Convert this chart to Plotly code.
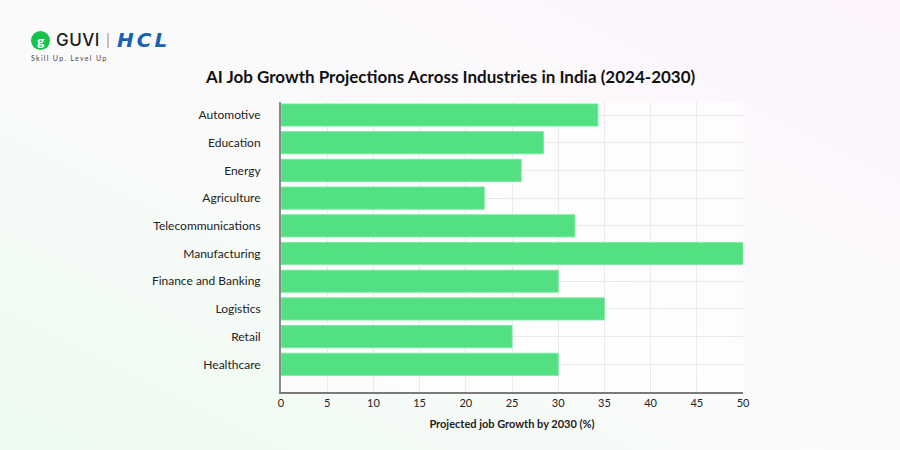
import base64
import plotly.graph_objects as go

# ---- data (bottom to top, as drawn) ----
industries = ["Healthcare", "Retail", "Logistics", "Finance and Banking", "Manufacturing",
              "Telecommunications", "Agriculture", "Energy", "Education", "Automotive"]
growth_pct = [30, 25, 35, 30, 50, 31.8, 22, 26, 28.4, 34.3]
x_ticks = [0, 5, 10, 15, 20, 25, 30, 35, 40, 45, 50]

title_text = "AI Job Growth Projections Across Industries in India (2024-2030)"
x_title = "Projected job Growth by 2030 (%)"

W, H = 900, 450
ML, MR, MT, MB = 281, 157, 102, 58
PW, PH = W - ML - MR, H - MT - MB

svg = f'''<svg xmlns="http://www.w3.org/2000/svg" width="{W}" height="{H}" viewBox="0 0 {W} {H}" preserveAspectRatio="none">
<defs><linearGradient id="g" x1="0" y1="1" x2="1" y2="0">
<stop offset="0" stop-color="#ecfaf0"/>
<stop offset="0.45" stop-color="#fafbfa"/>
<stop offset="0.7" stop-color="#fcf9fc"/>
<stop offset="1" stop-color="#fcf3fc"/>
</linearGradient></defs>
<rect width="{W}" height="{H}" fill="url(#g)"/></svg>'''
bg_uri = "data:image/svg+xml;base64," + base64.b64encode(svg.encode()).decode()

fig = go.Figure()
fig.add_trace(go.Bar(
    x=growth_pct, y=industries, orientation="h",
    marker=dict(color="#53e083", line=dict(color="rgba(120,235,160,0.9)", width=1)),
    width=0.8, hoverinfo="x+y",
))

fig.update_layout(
    width=W, height=H,
    margin=dict(l=ML, r=MR, t=MT, b=MB, pad=0),
    paper_bgcolor="#fafafa",
    plot_bgcolor="rgba(0,0,0,0)",
    font=dict(family="Lato, Inter, sans-serif", color="#222"),
    showlegend=False,
    images=[dict(source=bg_uri, xref="paper", yref="paper",
                 x=-ML / PW, y=1 + MT / PH, sizex=W / PW, sizey=H / PH,
                 xanchor="left", yanchor="top", sizing="stretch", layer="below")],
    shapes=[dict(type="rect", xref="paper", yref="paper", x0=0, x1=1, y0=0, y1=1,
                 fillcolor="rgba(255,255,255,0.65)", line=dict(width=0), layer="below")],
    xaxis=dict(range=[0, 50], tickvals=x_ticks, showgrid=True, gridcolor="#ebe9ec", gridwidth=1,
               showline=True, linecolor="#7a7a7a", linewidth=2, zeroline=False,
               ticks="", tickfont=dict(size=11, color="#222", family="Lato, sans-serif"),
               ticklabelstandoff=0,
               title=dict(text="<b>" + x_title + "</b>", font=dict(size=11, color="#222"), standoff=12),
               fixedrange=True),
    yaxis=dict(range=[-1, 9.47], showgrid=True, gridcolor="#ebe9ec", gridwidth=1,
               showline=True, linecolor="#8a8a8a", linewidth=2, zeroline=False,
               ticks="", ticklabelstandoff=16,
               tickfont=dict(size=12, color="#222", family="Lato, sans-serif"),
               fixedrange=True),
)

# title
fig.add_annotation(text="<b>" + title_text + "</b>", xref="paper", yref="paper",
                   x=(450 - ML) / PW, y=1 + (MT - 76) / PH, xanchor="center", yanchor="middle",
                   showarrow=False, font=dict(size=17, color="#111", family="Lato, sans-serif"))

# logo
def px(xp):
    return (xp - ML) / PW

def py(yp):
    return 1 - (yp - MT) / PH

fig.add_shape(type="circle", xref="paper", yref="paper",
              x0=px(31), x1=px(50), y0=py(50), y1=py(31),
              fillcolor="#17c24f", line=dict(width=0), layer="above")
fig.add_annotation(text="<b>g</b>", xref="paper", yref="paper", x=px(40.5), y=py(40),
                   showarrow=False, xanchor="center", yanchor="middle",
                   font=dict(size=14, color="white", family="Lato, sans-serif"))
fig.add_annotation(text='<span style="letter-spacing:0.5px">GUVI</span>', xref="paper", yref="paper",
                   x=px(54), y=py(40.5),
                   showarrow=False, xanchor="left", yanchor="middle",
                   font=dict(size=17, color="#1b1b1b", family="Inter, Lato, sans-serif", weight=500))
fig.add_shape(type="line", xref="paper", yref="paper", x0=px(108), x1=px(108),
              y0=py(33), y1=py(48), line=dict(color="#888", width=1))
fig.add_annotation(text='<b><i><span style="letter-spacing:3px">HCL</span></i></b>',
                   xref="paper", yref="paper", x=px(115), y=py(40.5),
                   showarrow=False, xanchor="left", yanchor="middle",
                   font=dict(size=20, color="#1862b2", family="DejaVu Sans, sans-serif"))
fig.add_annotation(text='<span style="letter-spacing:1.3px">Skill Up. Level Up</span>',
                   xref="paper", yref="paper", x=px(29), y=py(58),
                   showarrow=False, xanchor="left", yanchor="middle",
                   font=dict(size=7, color="#444", family="Lato, sans-serif"))

fig.write_html("out.html", config={"displayModeBar": False},
               post_script="document.body.style.margin='0';")
